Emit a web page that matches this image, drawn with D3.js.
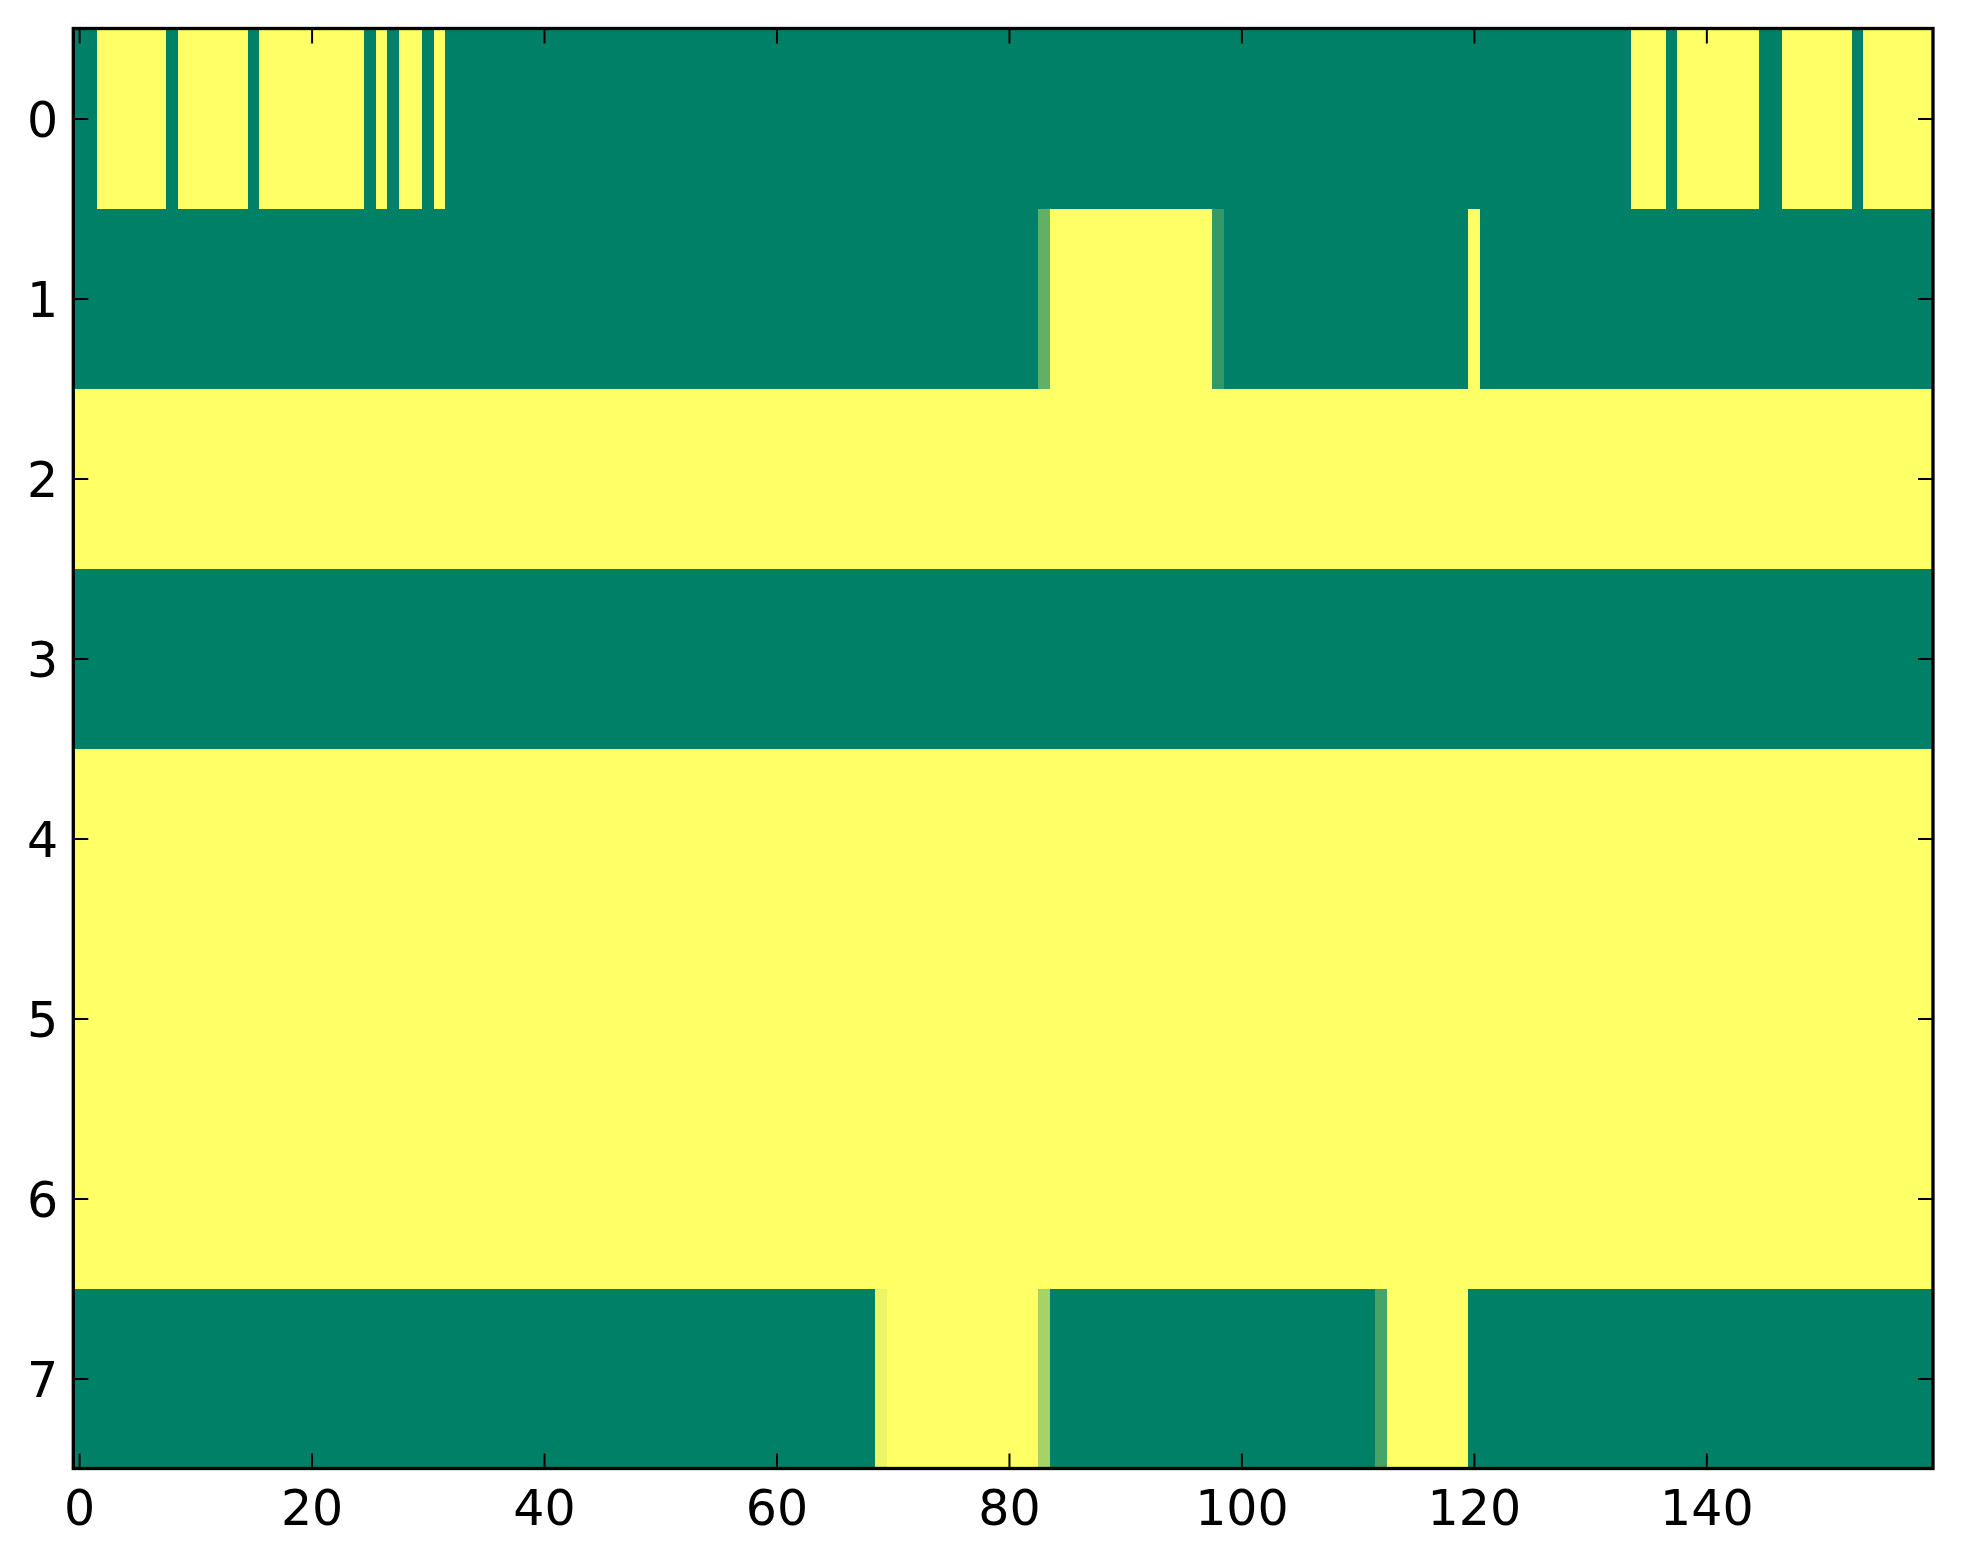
<html>
<head>
<style>
  body { margin: 0; background: white; }
  svg { display: block; }
  text { font-family: "DejaVu Sans", sans-serif; font-size: 49px; fill: black; }
</style>
<script src="https://cdn.jsdelivr.net/npm/d3@7"></script>
</head>
<body>
<svg id="chart"></svg>
<script>
// each row of the image as runs of [value, number of columns]
let row0 = [[0,2],[1,6],[0,1],[1,6],[0,1],[1,9],[0,1],[1,1],[0,1],[1,2],[0,1],[1,1],
            [0,102],[1,3],[0,1],[1,7],[0,2],[1,6],[0,1],[1,6]]
let row1 = [[0,83],[0.38,1],[1,14],[0.2,1],[0,21],[1,1],[0,39]]
let row2 = [[1,160]]
let row3 = [[0,160]]
let row4 = [[1,160]]
let row5 = [[1,160]]
let row6 = [[1,160]]
let row7 = [[0,69],[0.92,1],[1,13],[0.65,1],[0,28],[0.28,1],[1,7],[0,40]]

let rows = [row0, row1, row2, row3, row4, row5, row6, row7]
let nCols = 160
let xTicks = [0, 20, 40, 60, 80, 100, 120, 140]
let yTicks = [0, 1, 2, 3, 4, 5, 6, 7]

let width = 1963
let height = 1564
let plotLeft = 73.3, plotRight = 1933, plotTop = 28.5, plotBottom = 1468.5

let svg = d3.select("#chart").attr("width", width).attr("height", height)

// unpack runs into cells
let cells = []
rows.forEach((runs, r) => {
  let c = 0
  for (let run of runs) {
    for (let k = 0; k < run[1]; k++) {
      cells.push({row: r, col: c, value: run[0]})
      c++
    }
  }
})

let x = d3.scaleLinear().domain([-0.5, nCols - 0.5]).range([plotLeft, plotRight])
let y = d3.scaleLinear().domain([-0.5, rows.length - 0.5]).range([plotTop, plotBottom])
// matplotlib "summer" colormap
let color = d3.scaleLinear().domain([0, 1]).range(["#008066", "#ffff66"])

svg.append("g").selectAll("rect").data(cells)
  .enter().append("rect")
  .attr("x", d => x(d.col - 0.5))
  .attr("y", d => y(d.row - 0.5))
  .attr("width", x(1) - x(0) + 0.6)
  .attr("height", y(1) - y(0) + 0.6)
  .attr("fill", d => color(d.value))
  .attr("shape-rendering", "crispEdges")

// ticks pointing inward on all four sides
let tickLen = 15
let bottomAxis = d3.axisBottom(x).tickValues(xTicks).tickSize(-tickLen).tickPadding(22)
let topAxis = d3.axisTop(x).tickValues(xTicks).tickSize(-tickLen).tickFormat("")
let leftAxis = d3.axisLeft(y).tickValues(yTicks).tickSize(-tickLen).tickPadding(15)
let rightAxis = d3.axisRight(y).tickValues(yTicks).tickSize(-tickLen).tickFormat("")

function styleAxis(g) {
  g.select(".domain").remove()
  g.selectAll("line").attr("stroke", "black").attr("stroke-width", 2)
  g.selectAll("text").attr("font-family", "DejaVu Sans").attr("font-size", 49)
}

svg.append("g").attr("transform", `translate(0,${plotBottom})`).call(bottomAxis).call(styleAxis)
  .selectAll("text").attr("dy", "0.71em")
svg.append("g").attr("transform", `translate(0,${plotTop})`).call(topAxis).call(styleAxis)
svg.append("g").attr("transform", `translate(${plotLeft},0)`).call(leftAxis).call(styleAxis)
  .selectAll("text").attr("dy", "0.36em")
svg.append("g").attr("transform", `translate(${plotRight},0)`).call(rightAxis).call(styleAxis)

// frame
svg.append("rect")
  .attr("x", plotLeft).attr("y", plotTop)
  .attr("width", plotRight - plotLeft).attr("height", plotBottom - plotTop)
  .attr("fill", "none").attr("stroke", "black").attr("stroke-width", 3.3)
</script>
</body>
</html>
